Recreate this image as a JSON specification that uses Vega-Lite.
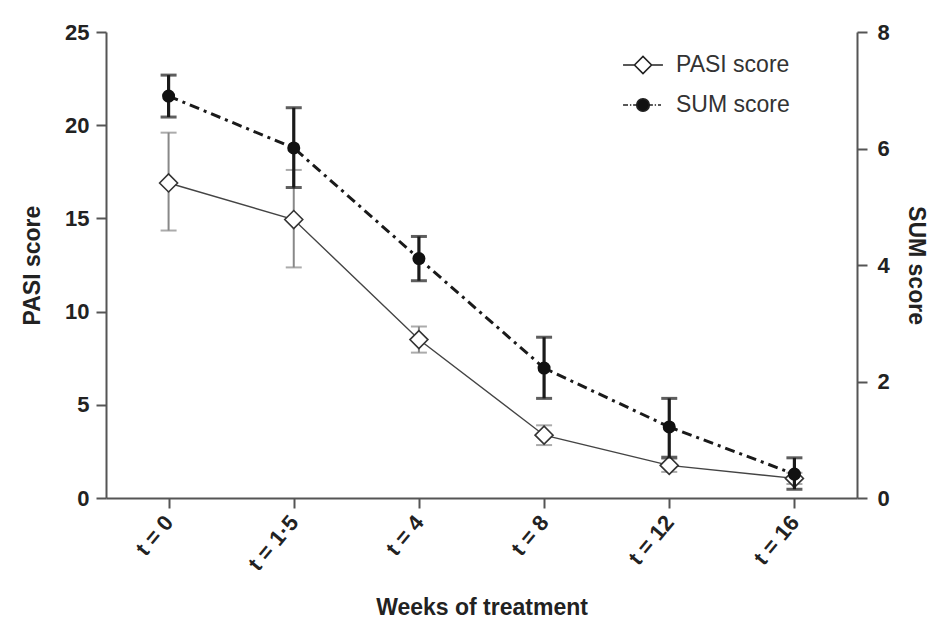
{
  "$schema": "https://vega.github.io/schema/vega-lite/v6.json",
  "width": 751,
  "height": 466,
  "autosize": {"type": "none"},
  "padding": {"left": 106, "top": 32, "right": 72, "bottom": 125},
  "background": "white",
  "config": {
    "view": {"stroke": null},
    "font": "Liberation Sans",
    "axis": {
      "grid": false,
      "domainColor": "#555",
      "domainWidth": 2,
      "tickColor": "#555",
      "tickWidth": 2,
      "tickSize": 10,
      "labelFont": "Liberation Sans",
      "labelFontWeight": "bold",
      "labelFontSize": 22,
      "labelColor": "#222",
      "titleFont": "Liberation Sans",
      "titleFontWeight": "bold",
      "titleFontSize": 23,
      "titleColor": "#222"
    }
  },
  "datasets": {
    "scores": [
      {"week": "t = 0", "pasi": 16.9, "pasi_lo": 14.35, "pasi_hi": 19.6, "sum": 6.9, "sum_lo": 6.54, "sum_hi": 7.26},
      {"week": "t = 1·5", "pasi": 14.94, "pasi_lo": 12.37, "pasi_hi": 17.6, "sum": 6.01, "sum_lo": 5.33, "sum_hi": 6.7},
      {"week": "t = 4", "pasi": 8.5, "pasi_lo": 7.8, "pasi_hi": 9.2, "sum": 4.11, "sum_lo": 3.73, "sum_hi": 4.49},
      {"week": "t = 8", "pasi": 3.37, "pasi_lo": 2.84, "pasi_hi": 3.9, "sum": 2.23, "sum_lo": 1.71, "sum_hi": 2.76},
      {"week": "t = 12", "pasi": 1.75, "pasi_lo": 1.4, "pasi_hi": 2.1, "sum": 1.22, "sum_lo": 0.7, "sum_hi": 1.71},
      {"week": "t = 16", "pasi": 1.05, "pasi_lo": 0.75, "pasi_hi": 1.35, "sum": 0.41, "sum_lo": 0.15, "sum_hi": 0.69}
    ],
    "legend": [
      {"series": "PASI score"},
      {"series": "SUM score"}
    ]
  },
  "layer": [
    {
      "data": {"name": "scores"},
      "encoding": {
        "x": {
          "field": "week",
          "type": "nominal",
          "sort": null,
          "scale": {"type": "point", "padding": 0.5},
          "axis": {"title": "Weeks of treatment", "labelAngle": -50, "labelPadding": 10, "labelDx": 7, "titlePadding": 22}
        }
      },
      "layer": [
        {
          "mark": {"type": "rule", "color": "#888", "strokeWidth": 2},
          "encoding": {
            "y": {"field": "pasi_lo", "type": "quantitative"},
            "y2": {"field": "pasi_hi"}
          }
        },
        {
          "mark": {"type": "tick", "color": "#888", "thickness": 2, "size": 16},
          "encoding": {"y": {"field": "pasi_lo", "type": "quantitative"}}
        },
        {
          "mark": {"type": "tick", "color": "#888", "thickness": 2, "size": 16},
          "encoding": {"y": {"field": "pasi_hi", "type": "quantitative"}}
        },
        {
          "mark": {"type": "line", "color": "#444", "strokeWidth": 1.4},
          "encoding": {"y": {"field": "pasi", "type": "quantitative"}}
        },
        {
          "mark": {"type": "point", "shape": "diamond", "size": 324, "filled": true, "fill": "white", "stroke": "#333", "strokeWidth": 1.6, "opacity": 1},
          "encoding": {
            "y": {
              "field": "pasi",
              "type": "quantitative",
              "scale": {"domain": [0, 25], "nice": false},
              "axis": {"title": "PASI score", "orient": "left", "values": [0, 5, 10, 15, 20, 25], "labelPadding": 7, "titlePadding": 20}
            }
          }
        }
      ]
    },
    {
      "data": {"name": "scores"},
      "encoding": {
        "x": {"field": "week", "type": "nominal", "sort": null, "scale": {"type": "point", "padding": 0.5}}
      },
      "layer": [
        {
          "mark": {"type": "line", "color": "#1a1a1a", "strokeWidth": 3, "strokeDash": [10, 5, 3, 5]},
          "encoding": {"y": {"field": "sum", "type": "quantitative"}}
        },
        {
          "mark": {"type": "rule", "color": "#1a1a1a", "strokeWidth": 3.2},
          "encoding": {
            "y": {"field": "sum_lo", "type": "quantitative"},
            "y2": {"field": "sum_hi"}
          }
        },
        {
          "mark": {"type": "tick", "color": "#1a1a1a", "thickness": 3, "size": 16},
          "encoding": {"y": {"field": "sum_lo", "type": "quantitative"}}
        },
        {
          "mark": {"type": "tick", "color": "#1a1a1a", "thickness": 3, "size": 16},
          "encoding": {"y": {"field": "sum_hi", "type": "quantitative"}}
        },
        {
          "mark": {"type": "point", "shape": "circle", "size": 170, "filled": true, "color": "#111", "opacity": 1},
          "encoding": {
            "y": {
              "field": "sum",
              "type": "quantitative",
              "scale": {"domain": [0, 8], "nice": false},
              "axis": {"title": "SUM score", "orient": "right", "values": [0, 2, 4, 6, 8], "format": "d", "labelPadding": 10, "titlePadding": 14}
            }
          }
        }
      ]
    },
    {
      "data": {"name": "legend"},
      "mark": {"type": "point", "opacity": 0, "stroke": "#222", "strokeWidth": 1.6},
      "encoding": {
        "shape": {
          "field": "series",
          "type": "nominal",
          "scale": {
            "domain": ["PASI score", "SUM score"],
            "range": [
              "M-1.33,0H-0.57M0.57,0H1.33M-0.57,0L0,-0.57L0.57,0L0,0.57Z",
              "M-1.33,0H-1.0M-0.87,0H-0.78M-0.66,0H-0.45M0.45,0H0.66M0.78,0H0.87M1.0,0H1.2M0.42,0A0.42,0.42 0 1,1 -0.42,0A0.42,0.42 0 1,1 0.42,0Z"
            ]
          },
          "legend": {
            "title": null,
            "orient": "none",
            "legendX": 521,
            "legendY": 17,
            "symbolSize": 900,
            "symbolStrokeColor": "#222",
            "symbolStrokeWidth": 1.6,
            "labelFont": "Liberation Sans",
            "labelFontSize": 23,
            "labelColor": "#333",
            "labelOffset": 17,
            "rowPadding": 12,
            "encode": {"symbols": {"update": {"opacity": {"value": 1}}}}
          }
        },
        "fill": {
          "field": "series",
          "type": "nominal",
          "scale": {"domain": ["PASI score", "SUM score"], "range": ["white", "#111"]},
          "legend": {
            "title": null,
            "orient": "none",
            "legendX": 521,
            "legendY": 17,
            "symbolSize": 900,
            "symbolStrokeColor": "#222",
            "symbolStrokeWidth": 1.6,
            "labelFont": "Liberation Sans",
            "labelFontSize": 23,
            "labelColor": "#333",
            "labelOffset": 17,
            "rowPadding": 12,
            "encode": {"symbols": {"update": {"opacity": {"value": 1}}}}
          }
        }
      }
    }
  ],
  "resolve": {"scale": {"y": "independent"}}
}
